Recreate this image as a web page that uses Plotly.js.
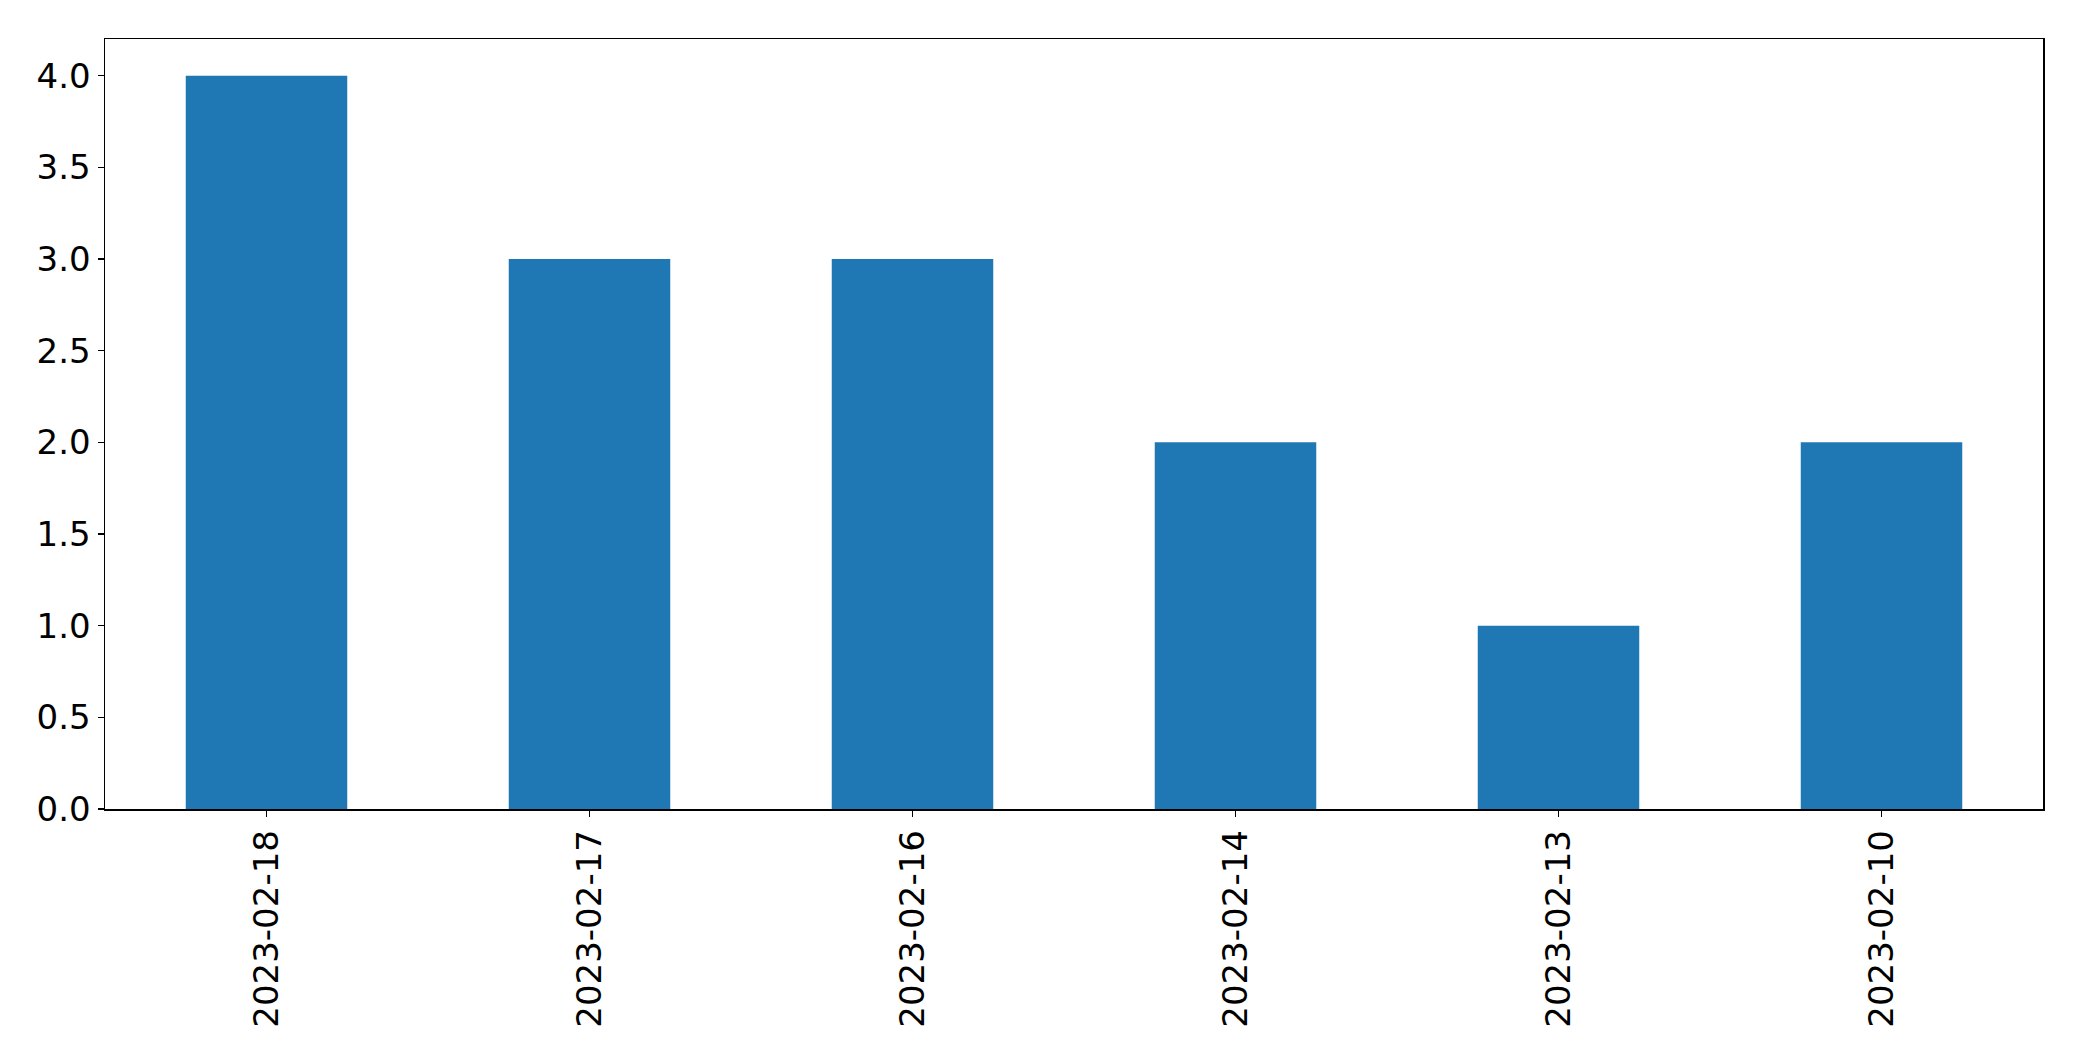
<!DOCTYPE html>
<html>
<head>
<meta charset="utf-8">
<script src="https://cdn.plot.ly/plotly-3.0.1.min.js"></script>
<style>html,body{margin:0;padding:0;background:#fff;}#chart{width:2082px;height:1061px;}</style>
</head>
<body>
<div id="chart"></div>
<script>
const categories = ["2023-02-18", "2023-02-17", "2023-02-16", "2023-02-14", "2023-02-13", "2023-02-10"];
const values = [4, 3, 3, 2, 1, 2];
const yTicks = [0, 0.5, 1, 1.5, 2, 2.5, 3, 3.5, 4];
const yTickText = ["0.0", "0.5", "1.0", "1.5", "2.0", "2.5", "3.0", "3.5", "4.0"];

const trace = {
  type: "bar",
  x: categories,
  y: values,
  width: 0.5,
  marker: {color: "#1f77b4", line: {width: 0}},
  hoverinfo: "x+y"
};

const layout = {
  width: 2082,
  height: 1061,
  margin: {l: 105, r: 39, t: 39, b: 252, pad: 0},
  paper_bgcolor: "#ffffff",
  plot_bgcolor: "#ffffff",
  showlegend: false,
  font: {family: "DejaVu Sans", size: 34, color: "#000000"},
  xaxis: {
    type: "category",
    range: [-0.5, 5.5],
    showline: true, mirror: true, linecolor: "#000000", linewidth: 1.5,
    showgrid: false, zeroline: false,
    ticks: "outside", ticklen: 6, tickwidth: 1.5, tickcolor: "#000000",
    tickangle: -90,
    tickfont: {family: "DejaVu Sans", size: 34, color: "#000000"}
  },
  yaxis: {
    range: [0, 4.2],
    tickvals: yTicks, ticktext: yTickText,
    showline: true, mirror: true, linecolor: "#000000", linewidth: 1.5,
    showgrid: false, zeroline: false,
    ticks: "outside", ticklen: 6, tickwidth: 1.5, tickcolor: "#000000",
    tickfont: {family: "DejaVu Sans", size: 34, color: "#000000"}
  }
};

Plotly.newPlot("chart", [trace], layout, {displayModeBar: false, staticPlot: true});
</script>
</body>
</html>
